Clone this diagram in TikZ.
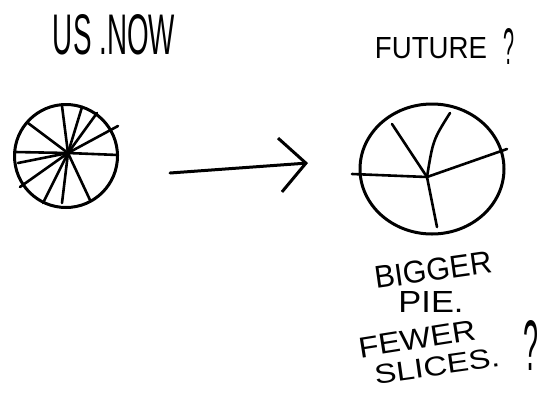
\documentclass[tikz,border=0pt]{standalone}
\usepackage{fontspec}
\setmainfont{Liberation Sans}
\usetikzlibrary{arrows.meta}

\begin{document}
\begin{tikzpicture}[x=1pt,y=-1pt,line cap=round,line join=round,
    pen/.style={line width=3pt},
    spoke/.style={line width=2.6pt},
    hand/.style={inner sep=0pt,outer sep=0pt}]
  \useasboundingbox (0,0) rectangle (542,392);

  % today: many thin slices
  \coordinate (hubA) at (68,153);
  \draw[pen] (66,156) circle (51.5);
  \foreach \p in {(62,106),(82,107),(97,113),(118,126),(118,155),(90,200),
                  (62,203),(43,203),(20,187),(18,163),(15,152),(28,123)}
    \draw[spoke] (hubA) -- \p;

  % tomorrow: a bigger pie, five slices
  \coordinate (hubB) at (427,177);
  \draw[pen] (432,169) ellipse (72 and 65);
  \draw[spoke] (352,174) -- (hubB) -- (507,149);
  \draw[spoke] (hubB) -- (392,124);
  \draw[spoke] (hubB) .. controls (433,140) .. (450,113);
  \draw[spoke] (hubB) -- (437,227);

  % arrow between them
  \coordinate (tail) at (170,173);
  \coordinate (tip) at (308,163);
  \draw[pen,-{Straight Barb[length=26pt,width=54pt,line width=3pt]}] (tail) -- (tip);

  % labels
  \node[hand] (usnow) at (114,35) {\resizebox{122pt}{40pt}{US .NOW}};
  \node[hand] (future) at (431,48) {\resizebox{112pt}{21pt}{FUTURE}};
  \node[hand] (qtop) at (509,46) {\resizebox{11pt}{36pt}{?}};
  \node[hand,rotate=8] (bigger) at (433,270) {\resizebox{118pt}{22pt}{BIGGER}};
  \node[hand] (pie) at (431,302) {\resizebox{65pt}{21pt}{PIE.}};
  \node[hand,rotate=9] (fewer) at (417,339) {\resizebox{118pt}{20pt}{FEWER}};
  \node[hand,rotate=8] (slices) at (437,366) {\resizebox{126pt}{19pt}{SLICES.}};
  \node[hand] (qbot) at (531,345) {\resizebox{15pt}{50pt}{?}};
\end{tikzpicture}
\end{document}
